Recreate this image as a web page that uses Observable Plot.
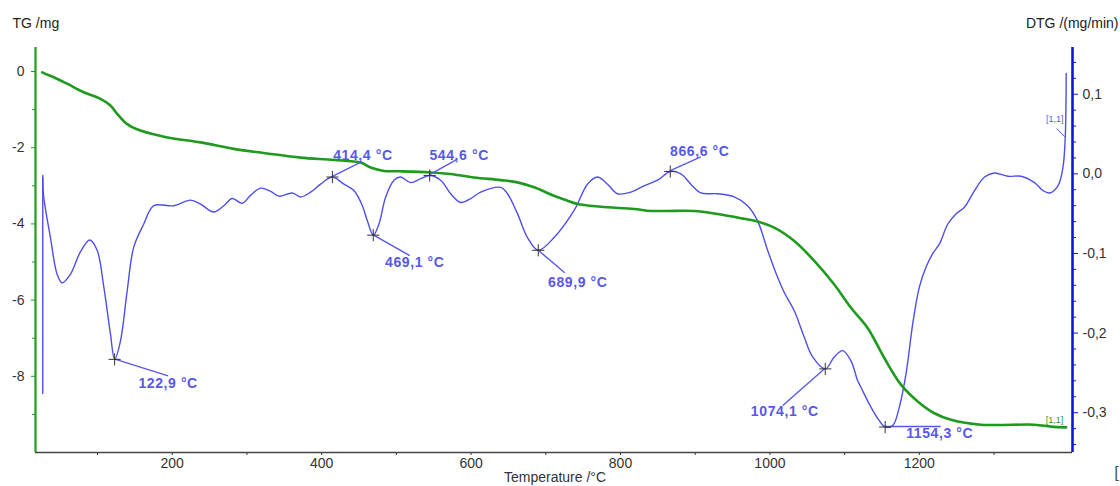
<!DOCTYPE html>
<html><head><meta charset="utf-8">
<script src="https://cdn.jsdelivr.net/npm/d3@7"></script>
<script src="https://cdn.jsdelivr.net/npm/@observablehq/plot@0.6"></script>
<style>
html,body{margin:0;padding:0;background:#fff;}
#chart{width:1120px;height:486px;overflow:hidden;}
#chart svg{font-family:"Liberation Sans",Arial,sans-serif;}
</style></head><body><div id="chart"></div>
<script>
// ---- TG curve (temperature °C, mass change mg)
const tgTemp = [26,28,41.4,59.3,81.6,103.9,117.3,126.3,139.7,157.5,193.3,237.9,282.5,327.2,371.8,416.4,452.2,465.6,483.4,505.8,545.9,572.7,603.9,639.6,662,684.3,711,729,742.4,773.6,818.2,840.6,863,898.6,929.9,961.2,983.5,1005.8,1032.6,1059.4,1086.1,1108.5,1130.8,1153.1,1175.4,1197.8,1220.1,1242.4,1282.6,1354,1376.3,1396.4];
const tgMass = [-0.02,-0.045,-0.15,-0.32,-0.545,-0.72,-0.89,-1.11,-1.38,-1.55,-1.73,-1.86,-2.03,-2.15,-2.26,-2.32,-2.39,-2.52,-2.61,-2.62,-2.65,-2.69,-2.78,-2.85,-2.91,-3.04,-3.26,-3.39,-3.48,-3.55,-3.61,-3.66,-3.66,-3.66,-3.74,-3.85,-3.94,-4.10,-4.45,-4.97,-5.59,-6.20,-6.73,-7.52,-8.22,-8.66,-8.97,-9.14,-9.27,-9.27,-9.32,-9.34];

// ---- DTG curve (temperature °C, rate mg/min)
const dtgTemp = [26.7,28.0,37.0,45.9,52.6,63.8,77.1,89.6,99.5,108.4,117.3,122.9,130.7,139.7,148.5,161.9,175.3,202.1,224.5,237.9,255.7,269.1,280.3,293.7,304.8,318.2,331.6,342.8,360.7,371.8,385.2,398.6,414.4,429.8,443.2,454.5,461.2,469.1,476.7,485.7,496.8,505.8,519.2,532.6,544.6,559.3,572.7,586.1,599.5,612.9,639.7,648.7,662.1,675.5,689.9,711.1,737.9,755.8,769.2,782.6,796.0,813.8,831.6,849.6,866.6,880.8,894.2,907.6,929.9,952.2,970.1,983.5,996.9,1010.3,1019.2,1032.6,1045.9,1057.2,1074.1,1086.1,1097.4,1108.5,1117.5,1121.8,1135.2,1146.4,1154.3,1164.4,1173.2,1182.2,1191.2,1200.1,1209.0,1218.0,1226.9,1238.1,1249.3,1260.3,1273.9,1287.3,1300.4,1318.4,1336.3,1354.1,1365.4,1374.2,1385.5,1392.2,1395.3,1396.3,1396.6];
const dtgRate = [-0.005,-0.029,-0.080,-0.126,-0.137,-0.126,-0.098,-0.083,-0.096,-0.142,-0.201,-0.233,-0.210,-0.147,-0.092,-0.063,-0.040,-0.040,-0.033,-0.038,-0.048,-0.040,-0.031,-0.037,-0.027,-0.018,-0.022,-0.028,-0.024,-0.029,-0.023,-0.013,-0.004,-0.013,-0.021,-0.040,-0.059,-0.077,-0.063,-0.029,-0.008,-0.004,-0.011,-0.006,-0.002,-0.008,-0.025,-0.036,-0.031,-0.023,-0.017,-0.025,-0.050,-0.080,-0.096,-0.080,-0.046,-0.013,-0.004,-0.013,-0.025,-0.023,-0.015,-0.008,0.003,0.000,-0.013,-0.024,-0.025,-0.029,-0.040,-0.059,-0.096,-0.130,-0.149,-0.172,-0.205,-0.230,-0.245,-0.230,-0.222,-0.235,-0.260,-0.268,-0.293,-0.310,-0.318,-0.316,-0.293,-0.251,-0.188,-0.142,-0.117,-0.100,-0.088,-0.063,-0.050,-0.042,-0.021,-0.004,0.001,-0.003,-0.003,-0.011,-0.021,-0.024,-0.015,0.008,0.046,0.092,0.126];
// initial DTG start transient (vertical segment)
const spikeTemp = [26.7, 26.7];
const spikeRate = [-0.276, -0.002];

// ---- DTG peak annotations
const peakTemp = [122.9, 414.4, 469.1, 544.6, 689.9, 866.6, 1074.1, 1154.3];
const peakRate = [-0.233, -0.004, -0.077, -0.002, -0.096, 0.003, -0.245, -0.318];
const peakLabels = ["122,9 °C","414,4 °C","469,1 °C","544,6 °C","689,9 °C","866,6 °C","1074,1 °C","1154,3 °C"];
const endLabel = "[1,1]";

// ---- ticks
const xTicks = [200,400,600,800,1000,1200];
const xMinorTicks = [100,300,500,700,900,1100,1300];
const tgTicks = [0,-2,-4,-6,-8];
const tgMinorTicks = [-1,-3,-5,-7,-9];
const dtgTicks = [0.1,0.0,-0.1,-0.2,-0.3];
const dtgMinorTicks = [0.14,0.12,0.08,0.06,0.04,0.02,-0.02,-0.04,-0.06,-0.08,-0.12,-0.14,-0.16,-0.18,-0.22,-0.24,-0.26,-0.28,-0.32,-0.34];

// ---- axes domains
const xDomain = [17, 1405];
const tgDomain = [-10, 0.63];
const dtgDomain = [-0.35, 0.1587];

// ---- layout (pixel offsets of leader end / label centre from the peak marker)
const labelLayout = [
  [54,17,54,24],[30,-15,31,-21],[37,21,42,27],[27,-15,30,-20],
  [27,23,40,32],[31,-14,30,-20],[-42,37,-40,43],[56,0,55,7]
];

const green = "#1e9b1e", axisGreen = "#1f9f1f";
const blue = "#4f4fe6", axisBlue = "#1212e8", labelBlue = "#5858e6";

const toTg = v => tgDomain[0] + (v - dtgDomain[0]) / (dtgDomain[1] - dtgDomain[0]) * (tgDomain[1] - tgDomain[0]);
const fromTg = t => dtgDomain[0] + (t - tgDomain[0]) / (tgDomain[1] - tgDomain[0]) * (dtgDomain[1] - dtgDomain[0]);

const tgData = tgTemp.map((t,i) => ({t, v: tgMass[i]}));
const dtgData = dtgTemp.map((t,i) => ({t, v: toTg(dtgRate[i])}));
const spikeData = spikeTemp.map((t,i) => ({t, v: toTg(spikeRate[i])}));
const peakData = peakTemp.map((t,i) => ({t, v: toTg(peakRate[i]), label: peakLabels[i], i}));

const fmtDtg = d => {
  const v = Math.round(fromTg(d) * 10) / 10;
  return (Math.abs(v) < 1e-9 ? "0.0" : v.toFixed(1)).replace(".", ",");
};

const annotations = (index, scales) => {
  const g = d3.create("svg:g");
  peakData.forEach((p, i) => {
    const px = scales.x(p.t), py = scales.y(p.v);
    const [ldx, ldy, tdx, tdy] = labelLayout[i];
    g.append("line").attr("x1", px).attr("y1", py).attr("x2", px + ldx).attr("y2", py + ldy)
      .attr("stroke", labelBlue).attr("stroke-width", 1.4);
    g.append("text").attr("x", px + tdx).attr("y", py + tdy)
      .attr("text-anchor", "middle").attr("dy", "0.35em")
      .attr("fill", labelBlue).attr("font-size", 14).attr("font-weight", "bold")
      .attr("letter-spacing", "0.6px").text(p.label);
  });
  // end markers "[1,1]"
  const bi = dtgData.length - 3;
  const bx = scales.x(dtgData[bi].t), by = scales.y(dtgData[bi].v);
  g.append("line").attr("x1", bx).attr("y1", by).attr("x2", bx - 8).attr("y2", by - 8)
    .attr("stroke", labelBlue).attr("stroke-width", 1);
  g.append("text").attr("x", bx - 10).attr("y", by - 18).attr("text-anchor", "middle").attr("dy", "0.35em")
    .attr("fill", labelBlue).attr("font-size", 9).text(endLabel);
  const gl = tgData[tgData.length - 1];
  g.append("text").attr("x", scales.x(gl.t) - 11).attr("y", scales.y(gl.v) - 7).attr("text-anchor", "middle").attr("dy", "0.35em")
    .attr("fill", green).attr("font-size", 9).text(endLabel);
  return g.node();
};

const chart = Plot.plot({
  width: 1120, height: 486,
  marginLeft: 35, marginRight: 48, marginTop: 47, marginBottom: 34,
  style: {fontFamily: "'Liberation Sans', Arial, sans-serif", fontSize: "14px", color: "#333", background: "#fff", overflow: "visible"},
  x: {domain: xDomain},
  y: {domain: tgDomain},
  marks: [
    Plot.axisX({ticks: xTicks, tickSize: 3, tickPadding: 3, label: null, tickFormat: d => String(d), stroke: "#333", fill: "#333"}),
    Plot.axisX({ticks: xMinorTicks, tickSize: 3, label: null, tickFormat: () => "", stroke: "#333"}),
    Plot.axisY({anchor: "left", ticks: tgTicks, tickSize: 4, tickPadding: 7, label: null, tickFormat: d => String(d), stroke: axisGreen, fill: "#333"}),
    Plot.axisY({anchor: "left", ticks: tgMinorTicks, tickSize: 3, label: null, tickFormat: () => "", stroke: axisGreen}),
    Plot.axisY({anchor: "right", ticks: dtgTicks.map(toTg), tickSize: 5, tickPadding: 5, label: null, tickFormat: fmtDtg, stroke: axisBlue, fill: "#333"}),
    Plot.axisY({anchor: "right", ticks: dtgMinorTicks.map(toTg), tickSize: 3, label: null, tickFormat: () => "", stroke: axisBlue}),
    Plot.ruleY([tgDomain[0]], {stroke: "#444", strokeWidth: 1.6}),
    Plot.ruleX([xDomain[0]], {stroke: axisGreen, strokeWidth: 2.2}),
    Plot.ruleX([xDomain[1]], {stroke: axisBlue, strokeWidth: 2.6}),
    Plot.line(spikeData, {x: "t", y: "v", stroke: blue, strokeWidth: 1.4}),
    Plot.line(dtgData, {x: "t", y: "v", stroke: blue, strokeWidth: 1.4, curve: "catmull-rom"}),
    Plot.line(tgData, {x: "t", y: "v", stroke: green, strokeWidth: 2.6, curve: "catmull-rom"}),
    annotations,
    Plot.dot(peakData, {x: "t", y: "v", symbol: "plus", r: 4, stroke: "#333", strokeWidth: 1}),
    Plot.text(["TG /mg"], {frameAnchor: "top-left", dx: -23, dy: -24, textAnchor: "start", lineAnchor: "middle", fill: "#222", fontSize: 14}),
    Plot.text(["DTG /(mg/min)"], {frameAnchor: "top-right", dx: 46, dy: -24, textAnchor: "end", lineAnchor: "middle", fill: "#222", fontSize: 14}),
    Plot.text(["Temperature /°C"], {frameAnchor: "bottom", dx: 1, dy: 25, textAnchor: "middle", lineAnchor: "middle", fill: "#333", fontSize: 14}),
    Plot.text(["["], {frameAnchor: "bottom-right", dx: 44, dy: 20, textAnchor: "middle", lineAnchor: "middle", fill: "#555", fontSize: 17})
  ]
});
document.getElementById("chart").appendChild(chart);
</script></body></html>
